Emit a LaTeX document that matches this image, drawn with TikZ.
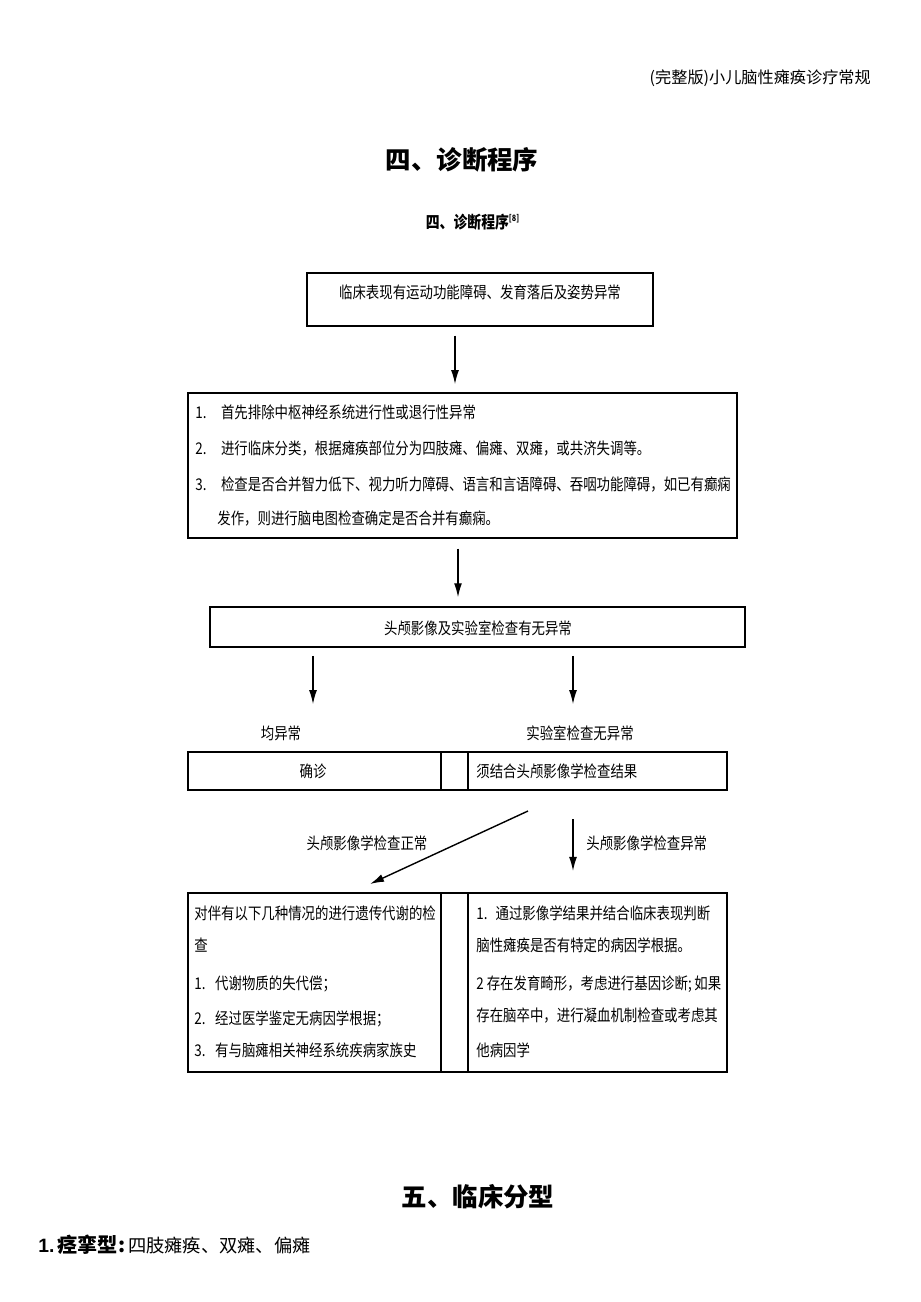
\documentclass[tikz,border=0pt]{standalone}
\usepackage{fontspec}
\setmainfont{Liberation Serif}
\setsansfont{Liberation Sans}
\newfontfamily\cjk{Noto Sans CJK SC}
\newfontfamily\cjkn[FakeStretch=0.83]{Noto Sans CJK SC}
\usepackage{tikz}
\usetikzlibrary{arrows.meta,positioning,calc,fit}

\begin{document}
\begin{tikzpicture}[x=0.02cm, y=-0.02cm,
    box/.style={draw, line width=1pt, inner sep=0pt},
    txt/.style={font=\cjkn\fontsize{9.2}{11}\selectfont, inner sep=0pt},
    arr/.style={-{Latex[length=8pt,width=4.5pt]}, line width=0.8pt}]
    \useasboundingbox (0,0) rectangle (920,1302);

    % Page header and titles
    \node[font=\cjk\fontsize{9.2}{10}\selectfont, anchor=east] (head) at (877,78) {(完整版)小儿脑性瘫痪诊疗常规};
    \node[font=\cjk\bfseries\fontsize{14.5}{16}\selectfont] (title) at (462,160) {四、诊断程序};
    \node[font=\cjkn\bfseries\fontsize{9.5}{10}\selectfont] (sub) at (473,222) {四、诊断程序\textsuperscript{\tiny[8]}};

    % Clinical signs
    \node[box, txt, fit={(307,273) (653,326)}] (b1) {临床表现有运动功能障碍、发育落后及姿势异常};

    % First steps
    \node[box, fit={(188,393) (737,538)}] (b2) {};
    \node[txt, anchor=west] (s1) at (195,412) {1.\hspace{0.9em}首先排除中枢神经系统进行性或退行性异常};
    \node[txt, anchor=west] (s2) at (195,449) {2.\hspace{0.9em}进行临床分类，根据瘫痪部位分为四肢瘫、偏瘫、双瘫，或共济失调等。};
    \node[txt, anchor=west] (s3) at (195,485) {3.\hspace{0.9em}检查是否合并智力低下、视力听力障碍、语言和言语障碍、吞咽功能障碍，如已有癫痫};
    \node[txt, anchor=west] (s4) at (217,519) {发作，则进行脑电图检查确定是否合并有癫痫。};

    % Imaging and lab
    \node[box, fit={(210,607) (745,647)}] (b3) {};
    \node[txt] (t3) at (478,628) {头颅影像及实验室检查有无异常};

    \node[txt] (yes) at (281,733) {均异常};
    \node[txt] (no) at (580,733) {实验室检查无异常};

    % Diagnosis row
    \node[box, fit={(188,752) (727,790)}] (b4) {};
    \foreach \x in {441,468} {
        \draw[line width=1pt] (\x,752) -- (\x,790);
    }
    \node[txt] (dx) at (313,771) {确诊};
    \node[txt, anchor=west] (img) at (476,771) {须结合头颅影像学检查结果};

    % Imaging result
    \node[txt] (norm) at (367,843) {头颅影像学检查正常};
    \node[txt, anchor=west] (abn) at (586,843) {头颅影像学检查异常};

    % Final boxes
    \node[box, fit={(188,893) (727,1072)}] (b5) {};
    \foreach \x in {441,468} {
        \draw[line width=1pt] (\x,893) -- (\x,1072);
    }
    \node[txt, anchor=west] (m1) at (194,913) {对伴有以下几种情况的进行遗传代谢的检};
    \node[txt, anchor=west] (m2) at (194,945) {查};
    \node[txt, anchor=west] (m3) at (194,984) {1.\hspace{0.6em}代谢物质的失代偿；};
    \node[txt, anchor=west] (m4) at (194,1019) {2.\hspace{0.6em}经过医学鉴定无病因学根据；};
    \node[txt, anchor=west] (m5) at (194,1050) {3.\hspace{0.6em}有与脑瘫相关神经系统疾病家族史};
    \node[txt, anchor=west] (r1) at (476,913) {1.\hspace{0.5em}通过影像学结果并结合临床表现判断};
    \node[txt, anchor=west] (r2) at (476,945) {脑性瘫痪是否有特定的病因学根据。};
    \node[txt, anchor=west] (r3) at (476,984) {2 存在发育畸形，考虑进行基因诊断;\,如果};
    \node[txt, anchor=west] (r4) at (476,1016) {存在脑卒中，进行凝血机制检查或考虑其};
    \node[txt, anchor=west] (r5) at (476,1050) {他病因学};

    % Arrows
    \draw[arr, shorten <=5pt, shorten >=4.5pt] (b1.south -| 455,0) -- (b2.north -| 455,0);
    \draw[arr, shorten <=5.5pt, shorten >=5pt] (b2.south -| 458,0) -- (b3.north -| 458,0);
    \foreach \x in {313,573} {
        \draw[arr, shorten <=4.5pt, shorten >=26.7pt] (b3.south -| \x,0) -- (b4.north -| \x,0);
    }
    \coordinate (d1) at (528,811);
    \coordinate (d2) at (370,884);
    \draw[arr] (d1) -- (d2);
    \draw[arr, shorten <=16pt, shorten >=12pt] (b4.south -| 573,0) -- (b5.north -| 573,0);

    % Next section
    \node[font=\cjk\bfseries\fontsize{14.5}{16}\selectfont] (sec5) at (478,1197) {五、临床分型};
    \node[anchor=west, inner sep=0pt] (type1) at (38,1245) {{\sffamily\bfseries\fontsize{11}{12}\selectfont 1.}\,{\cjk\bfseries\fontsize{11.5}{12}\selectfont 痉挛型:}\,{\cjk\fontsize{10.4}{12}\selectfont 四肢瘫痪、双瘫、偏瘫}};
\end{tikzpicture}
\end{document}
